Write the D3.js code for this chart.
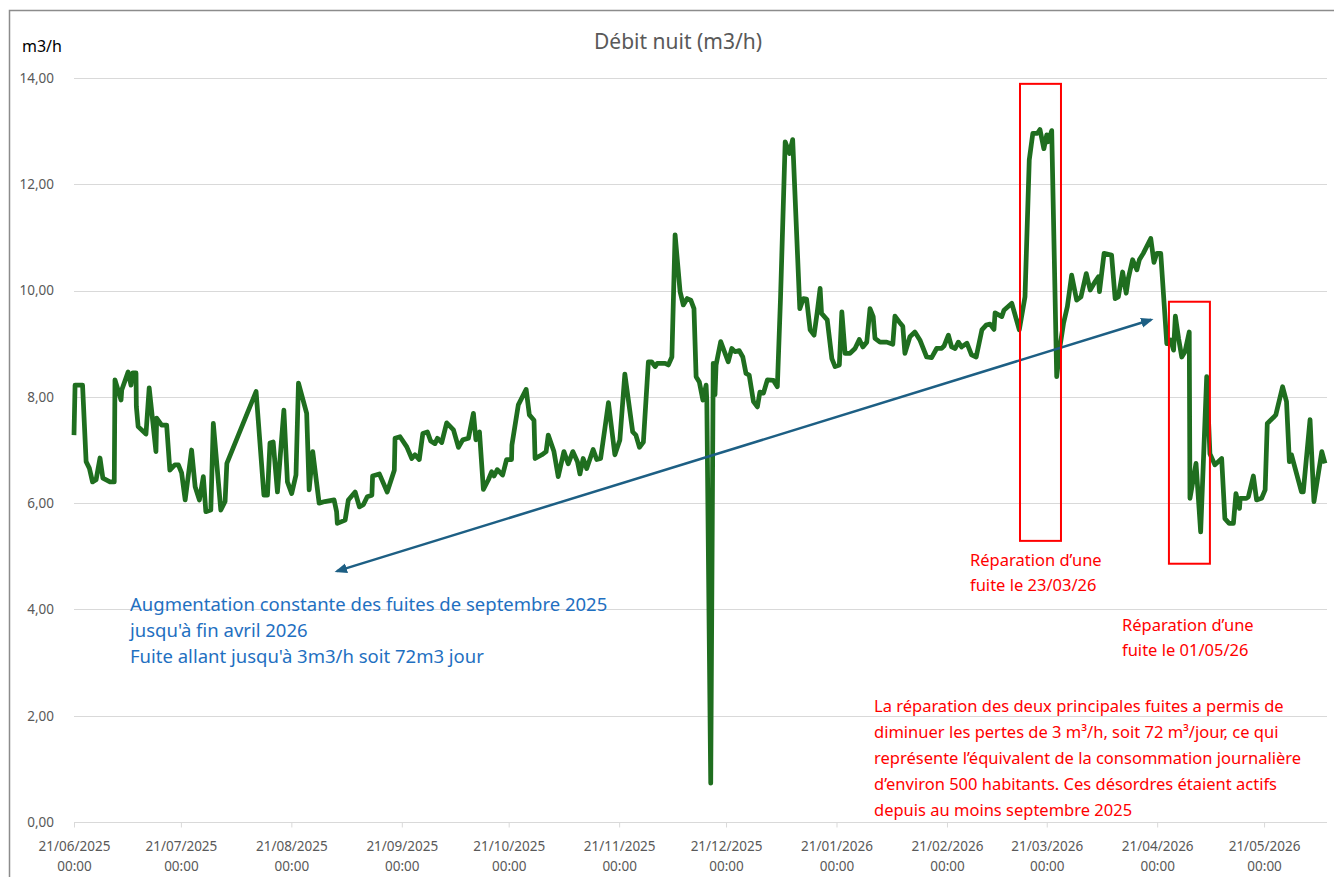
<!DOCTYPE html>
<html>
<head>
    <meta charset="utf-8">
    <script src="https://d3js.org/d3.v7.min.js"></script>
    <style>
        body { margin: 0; background: #fff; }
        text { font-family: "Noto Sans", "Open Sans", sans-serif; }
        .axis text { fill: #595959; font-size: 13.5px; }
        .grid line { stroke: #d9d9d9; stroke-width: 1px; }
    </style>
</head>
<body>
    <svg width="1334" height="877"></svg>

    <script>
        const width = 1334, height = 877;
        const margin = { top: 78, right: 9, bottom: 55, left: 74 };
        const svg = d3.select("svg");

        // Débit nuit, days counted from 21/06/2025
        const dayOffset = [
            0, 0.3, 2.4, 3.4, 4.3, 5.2, 6.2, 7.3, 8.1, 10.1, 11.3, 11.5, 13.2, 13.4, 15.2, 16.0, 16.5, 17.4, 17.5, 18.0,
            20.2, 21.1, 23.0, 23.2, 24.6, 26.0, 26.9, 28.3, 29.3, 30.2, 31.2, 33.0, 34.0, 35.2, 36.3, 37.0, 38.4, 39.1, 41.2, 42.4,
            42.9, 51.1, 53.3, 54.3, 55.0, 55.9, 57.1, 58.9, 59.9, 61.1, 62.3, 63.0, 65.3, 66.0, 67.0, 68.8, 70.4, 73.0, 73.7, 73.9,
            76.1, 77.0, 78.9, 80.1, 81.2, 82.3, 83.6, 83.8, 85.7, 87.9, 89.9, 90.1, 91.5, 93.4, 94.8, 95.7, 96.9, 97.9, 99.2, 100.1,
            101.3, 102.0, 103.2, 104.6, 106.5, 107.9, 109.1, 110.7, 112.1, 112.8, 113.8, 114.9, 116.3, 117.2, 117.9, 118.8, 120.3, 121.4, 122.8, 122.9,
            124.7, 126.9, 127.8, 129.1, 129.4, 131.3, 132.5, 133.1, 134.7, 135.9, 137.5, 138.7, 140.0, 141.3, 142.0, 142.9, 143.9, 145.7, 146.7, 147.8,
            149.0, 150.0, 151.8, 153.2, 154.6, 156.8, 157.7, 158.7, 159.8, 161.2, 162.1, 163.1, 163.7, 165.9, 166.8, 167.8, 168.7, 170.1, 171.0, 172.1,
            173.1, 174.0, 174.6, 175.5, 176.5, 177.4, 177.6, 178.7, 179.4, 179.9, 180.2, 181.5, 183.6, 184.6, 185.5, 186.7, 187.7, 188.6, 189.5, 190.7,
            191.8, 192.5, 193.5, 194.6, 196.3, 197.4, 198.3, 199.6, 200.8, 201.7, 203.7, 204.7, 205.6, 206.6, 207.7, 208.6, 209.4, 209.8, 211.4, 212.7,
            213.6, 214.8, 215.5, 216.4, 217.8, 219.2, 220.4, 221.4, 222.5, 223.4, 224.3, 224.8, 226.2, 228.1, 229.8, 230.4, 231.6, 232.6, 233.2, 234.6,
            236.0, 237.4, 239.3, 240.7, 242.1, 243.5, 244.2, 245.4, 246.3, 247.3, 248.2, 249.1, 250.6, 251.9, 253.2, 254.8, 256.0, 257.1, 258.2, 258.5,
            260.4, 261.0, 263.2, 265.3, 266.9, 268.1, 269.1, 270.4, 271.1, 272.2, 273.0, 273.4, 274.4, 275.8, 276.7, 277.7, 278.8, 280.0, 281.4, 282.6,
            284.1, 285.2, 286.6, 287.5, 287.8, 289.1, 291.2, 292.2, 293.1, 294.3, 295.3, 295.9, 297.1, 298.3, 299.0, 300.1, 302.2, 303.1, 303.9, 305.0,
            306.7, 307.8, 308.6, 309.1, 310.0, 310.9, 311.8, 313.0, 313.2, 314.9, 316.2, 317.9, 318.8, 320.2, 322.1, 323.0, 324.2, 325.4, 326.1, 327.1,
            327.3, 329.0, 329.6, 331.0, 331.9, 333.3, 334.3, 334.9, 336.6, 337.3, 339.2, 340.3, 341.1, 341.7, 344.5, 345.0, 346.9, 348.0, 350.2, 351.1
        ];
        const debit = [
            7.28, 8.22, 8.22, 6.78, 6.66, 6.40, 6.44, 6.85, 6.47, 6.40, 6.40, 8.32, 7.94, 8.13, 8.47, 8.22, 8.45, 8.45, 7.82, 7.44,
            7.30, 8.17, 6.97, 7.60, 7.47, 7.47, 6.62, 6.72, 6.72, 6.57, 6.06, 7.00, 6.31, 6.06, 6.50, 5.84, 5.87, 7.50, 5.87, 6.03,
            6.75, 8.10, 6.15, 6.15, 7.13, 7.15, 6.21, 7.75, 6.40, 6.18, 6.53, 8.26, 7.69, 6.25, 6.97, 6.00, 6.03, 6.06, 5.84, 5.62,
            5.68, 6.06, 6.21, 5.93, 5.97, 6.12, 6.15, 6.51, 6.55, 6.21, 6.62, 7.22, 7.25, 7.06, 6.84, 6.91, 6.82, 7.31, 7.34, 7.17,
            7.12, 7.22, 7.14, 7.51, 7.38, 7.05, 7.19, 7.22, 7.69, 7.19, 7.34, 6.26, 6.44, 6.59, 6.51, 6.63, 6.53, 6.82, 6.82, 7.09,
            7.85, 8.14, 7.66, 7.56, 6.84, 6.91, 6.97, 7.28, 6.97, 6.50, 6.97, 6.74, 6.97, 6.78, 6.55, 6.84, 6.65, 7.01, 6.82, 6.84,
            7.41, 7.89, 6.91, 7.19, 8.43, 7.34, 7.28, 7.05, 7.15, 8.66, 8.66, 8.57, 8.63, 8.63, 8.60, 8.75, 11.05, 9.98, 9.73, 9.85,
            9.82, 9.66, 8.38, 8.28, 7.94, 8.22, 7.94, 0.73, 8.63, 8.04, 8.60, 9.04, 8.66, 8.91, 8.85, 8.87, 8.75, 8.44, 8.41, 7.91,
            7.81, 8.09, 8.07, 8.32, 8.31, 8.19, 9.88, 12.80, 12.58, 12.84, 9.66, 9.85, 9.84, 9.26, 9.16, 9.60, 10.04, 9.57, 9.45, 8.72,
            8.57, 8.60, 9.60, 8.82, 8.82, 8.91, 9.08, 8.94, 9.03, 9.66, 9.51, 9.10, 9.03, 9.03, 8.99, 9.52, 9.41, 9.33, 8.82, 9.13,
            9.22, 9.07, 8.75, 8.74, 8.91, 8.91, 8.96, 9.16, 8.94, 8.91, 9.03, 8.94, 9.01, 8.79, 8.75, 9.26, 9.35, 9.37, 9.27, 9.58,
            9.51, 9.63, 9.76, 9.26, 9.88, 12.46, 12.96, 12.96, 13.03, 12.67, 12.93, 12.80, 13.01, 8.38, 8.94, 9.38, 9.70, 10.29, 9.82, 9.88,
            10.32, 10.01, 10.17, 10.26, 9.98, 10.70, 10.67, 9.85, 9.88, 10.35, 9.95, 10.23, 10.58, 10.39, 10.58, 10.70, 10.98, 10.53, 10.70, 10.70,
            9.00, 9.07, 8.88, 9.52, 9.10, 8.75, 8.85, 9.22, 6.09, 6.75, 5.46, 8.38, 6.93, 6.72, 6.84, 5.71, 5.62, 5.62, 6.18, 5.90,
            6.09, 6.09, 6.12, 6.51, 6.06, 6.09, 6.25, 7.50, 7.61, 7.66, 8.19, 7.91, 6.78, 6.91, 6.21, 6.21, 7.57, 6.03, 6.97, 6.75
        ];

        const monthTicks = ["21/06/2025", "21/07/2025", "21/08/2025", "21/09/2025", "21/10/2025", "21/11/2025",
            "21/12/2025", "21/01/2026", "21/02/2026", "21/03/2026", "21/04/2026", "21/05/2026"];
        const yTicks = [0, 2, 4, 6, 8, 10, 12, 14];

        // annotations in data units (day offset, m3/h)
        const trendArrow = [[73.8, 4.72], [302.3, 9.45]];
        const repairBoxes = [
            { d0: 265.5, d1: 277.0, v0: 5.29, v1: 13.89 },
            { d0: 307.3, d1: 318.8, v0: 4.86, v1: 9.79 }
        ];

        const start = new Date(2025, 5, 21);
        const toDate = d => new Date(start.getTime() + d * 864e5);
        const parseTick = d3.timeParse("%d/%m/%Y");

        const x = d3.scaleTime()
            .domain([start, toDate(351.1)])
            .range([margin.left, 1325]);
        const y = d3.scaleLinear().domain([0, 14]).range([822, margin.top]);

        const fmt = v => d3.format(".2f")(v).replace(".", ",");

        // chart frame
        svg.append("rect")
            .attr("x", 9.5).attr("y", 10.5)
            .attr("width", 1340).attr("height", 900)
            .attr("fill", "none").attr("stroke", "#8c8c8c").attr("stroke-width", 1.5);

        // title and unit
        svg.append("text")
            .attr("x", 678).attr("y", 49)
            .attr("text-anchor", "middle")
            .attr("font-size", "21px").attr("fill", "#595959")
            .text("Débit nuit (m3/h)");
        svg.append("text")
            .attr("x", 22).attr("y", 52)
            .attr("font-size", "16px").attr("fill", "#000")
            .text("m3/h");

        // gridlines
        svg.append("g").attr("class", "grid")
            .selectAll("line")
            .data(yTicks.filter(t => t > 0))
            .enter().append("line")
            .attr("x1", margin.left).attr("x2", 1327)
            .attr("y1", d => Math.round(y(d)) + 0.5)
            .attr("y2", d => Math.round(y(d)) + 0.5);

        // y axis labels
        const yAxis = svg.append("g")
            .attr("class", "axis")
            .attr("transform", `translate(${margin.left - 17}, 0)`)
            .call(d3.axisLeft(y).tickValues(yTicks).tickSize(0).tickFormat(fmt));
        yAxis.select(".domain").remove();

        // x axis
        const xAxis = svg.append("g")
            .attr("class", "axis")
            .attr("transform", `translate(0, ${Math.round(y(0)) + 0.5})`)
            .call(d3.axisBottom(x).tickValues(monthTicks.map(parseTick)).tickSize(5).tickPadding(8).tickFormat(""));
        xAxis.select(".domain").attr("d", `M${margin.left},0H1327`).attr("stroke", "#d9d9d9");
        xAxis.selectAll(".tick line").attr("stroke", "#d9d9d9");
        xAxis.selectAll(".tick text").each(function (d, i) {
            const t = d3.select(this).text(null).attr("y", 19);
            t.append("tspan").attr("x", 0).text(monthTicks[i]);
            t.append("tspan").attr("x", 0).attr("dy", 20).text("00:00");
        });

        // data line
        const series = dayOffset.map((d, i) => ({ date: toDate(d), value: debit[i] }));
        svg.append("path")
            .datum(series)
            .attr("fill", "none")
            .attr("stroke", "#1f6e1f")
            .attr("stroke-width", 4.75)
            .attr("stroke-linejoin", "round")
            .attr("d", d3.line().x(d => x(d.date)).y(d => y(d.value)));

        // trend arrow
        const defs = svg.append("defs");
        defs.append("marker")
            .attr("id", "arrow")
            .attr("viewBox", "0 0 10 10")
            .attr("refX", 8).attr("refY", 5)
            .attr("markerWidth", 5).attr("markerHeight", 5)
            .attr("orient", "auto-start-reverse")
            .append("path").attr("d", "M0,1L10,5L0,9Z").attr("fill", "#1d5f84");
        svg.append("line")
            .attr("x1", x(toDate(trendArrow[0][0]))).attr("y1", y(trendArrow[0][1]))
            .attr("x2", x(toDate(trendArrow[1][0]))).attr("y2", y(trendArrow[1][1]))
            .attr("stroke", "#1d5f84").attr("stroke-width", 2.5)
            .attr("marker-start", "url(#arrow)").attr("marker-end", "url(#arrow)");

        // repair boxes
        svg.selectAll("rect.box")
            .data(repairBoxes)
            .enter().append("rect")
            .attr("class", "box")
            .attr("x", d => x(toDate(d.d0)))
            .attr("y", d => y(d.v1))
            .attr("width", d => x(toDate(d.d1)) - x(toDate(d.d0)))
            .attr("height", d => y(d.v0) - y(d.v1))
            .attr("fill", "none").attr("stroke", "#ff0000").attr("stroke-width", 2);

        // notes
        function note(lines, x0, y0, dy, color, size) {
            const t = svg.append("text").attr("font-size", size).attr("fill", color);
            lines.forEach((l, i) => t.append("tspan").attr("x", x0).attr("y", y0 + i * dy).text(l));
        }
        note(["Augmentation constante des fuites de septembre 2025",
              "jusqu'à fin avril 2026",
              "Fuite allant jusqu'à 3m3/h soit 72m3 jour"], 130, 611, 26, "#1f70c1", "18.5px");
        note(["Réparation d’une", "fuite le 23/03/26"], 970, 566, 25, "#ff0000", "16.5px");
        note(["Réparation d’une", "fuite le 01/05/26"], 1122, 631, 25, "#ff0000", "16.5px");
        note(["La réparation des deux principales fuites a permis de",
              "diminuer les pertes de 3 m³/h, soit 72 m³/jour, ce qui",
              "représente l’équivalent de la consommation journalière",
              "d’environ 500 habitants. Ces désordres étaient actifs",
              "depuis au moins septembre 2025"], 874, 712, 26, "#ff0000", "16.5px");
    </script>
</body>
</html>
